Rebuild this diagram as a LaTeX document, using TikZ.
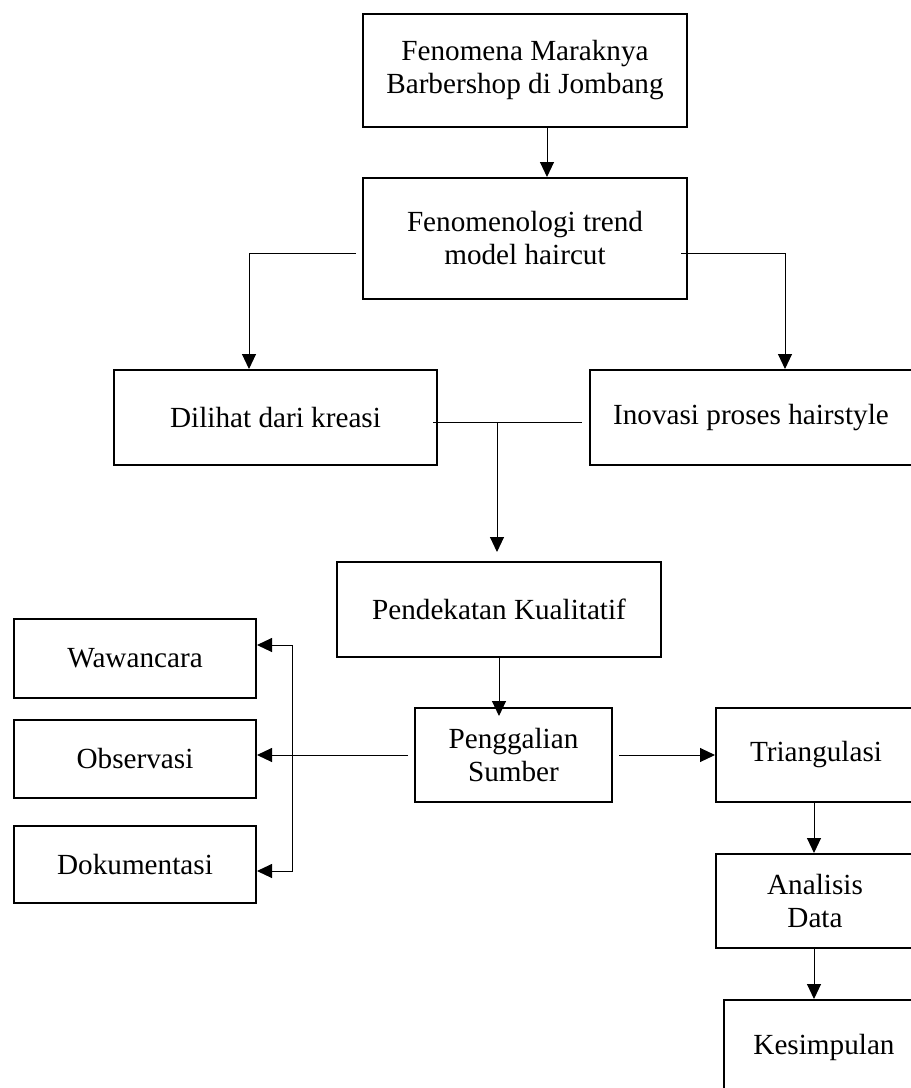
\documentclass[tikz,border=0pt]{standalone}
\usepackage{fontspec}
\setmainfont{Liberation Serif}
\usetikzlibrary{arrows.meta}
\begin{document}
\begin{tikzpicture}[x=0.5pt,y=-0.5pt,
  box/.style={draw,line width=1pt,inner sep=0pt,align=center,font=\fontsize{14.6pt}{16.5pt}\selectfont},
  conn/.style={line width=0.5pt},
  arr/.style={conn,-{Triangle[length=7.5pt,width=7pt]}},
  barr/.style={conn,{Triangle[length=7.5pt,width=7pt]}-{Triangle[length=7.5pt,width=7pt]}}]
\useasboundingbox (0,0) rectangle (911,1088);
\clip (0,0) rectangle (911,1088);
\node[box,minimum width=162pt,minimum height=56.5pt] (b1) at (525,70.5) {Fenomena Maraknya\\Barbershop di Jombang};
\node[box,minimum width=162pt,minimum height=60.5pt] (b2) at (525,238.5) {Fenomenologi trend\\model haircut};
\node[box,minimum width=161.5pt,minimum height=47.5pt] (b3) at (275.5,417.5) {Dilihat dari kreasi};
\node[box,minimum width=161pt,minimum height=47.5pt] (b4) at (751,417.5) {Inovasi proses hairstyle};
\node[box,minimum width=162pt,minimum height=47.5pt] (b5) at (499,609.5) {Pendekatan Kualitatif};
\node[box,minimum width=121pt,minimum height=39.5pt] (b6) at (135,658.5) {Wawancara};
\node[box,minimum width=121pt,minimum height=39pt] (b7) at (135,759) {Observasi};
\node[box,minimum width=121pt,minimum height=38.5pt] (b8) at (135,864.5) {Dokumentasi};
\node[box,minimum width=98.5pt,minimum height=47pt] (b9) at (513.5,755) {Penggalian\\Sumber};
\node[box,minimum width=100pt,minimum height=47pt] (b10) at (816,755) {Triangulasi};
\node[box,minimum width=99pt,minimum height=47pt] (b11) at (815,901) {Analisis\\Data};
\node[box,minimum width=100pt,minimum height=47pt] (b12) at (824,1047) {Kesimpulan};
% connectors
\draw[arr] ([xshift=11pt]b1.south) -- ([xshift=11pt]b2.north);
\coordinate (lb) at (249,253);
\coordinate (rb) at (785,253);
\draw[arr] ([xshift=-3pt]b2.west |- lb) -- (lb) -- (lb |- b3.north);
\draw[arr] ([xshift=-3.5pt]b2.east |- rb) -- (rb) -- (rb |- b4.north);
\coordinate (jn) at (497,422);
\draw[conn] ([xshift=-2.5pt]b3.east |- jn) -- ([xshift=-3.5pt]b4.west |- jn);
\draw[arr] (jn) -- ([yshift=4.5pt]jn |- b5.north);
\draw[arr] (b5.south) -- ([yshift=-4.5pt]b5.south |- b9.north);
\draw[arr] ([xshift=-3pt]b9.west) -- (b7.east |- b9.west);
\coordinate (vt) at (292,645);
\coordinate (vb) at (292,871);
\draw[barr] (b6.east |- vt) -- (vt) -- (vb) -- (b8.east |- vb);
\draw[arr] ([xshift=3pt]b9.east) -- (b10.west |- b9.east);
\draw[arr] ([xshift=-1pt]b10.south) -- ([xshift=-1pt]b10.south |- b11.north);
\draw[arr] ([xshift=-0.5pt]b11.south) -- ([xshift=-0.5pt]b11.south |- b12.north);
\end{tikzpicture}
\end{document}
